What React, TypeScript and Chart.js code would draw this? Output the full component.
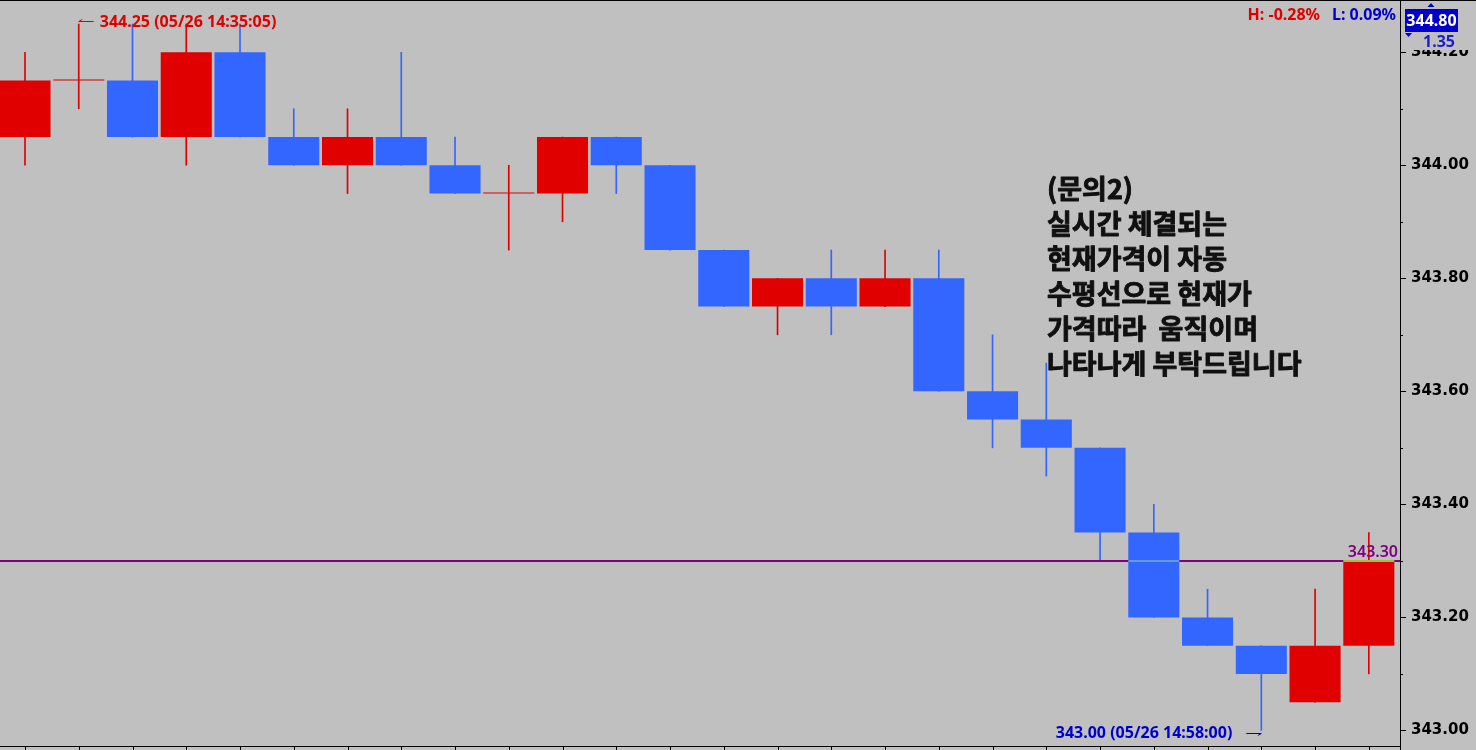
import React, { useEffect, useRef } from 'react';
import { Chart, registerables } from 'chart.js';

Chart.register(...registerables);

// ---- data ----
const barIndex = [0, 1, 2, 3, 4, 5, 6, 7, 8, 9, 10, 11, 12, 13, 14, 15, 16, 17, 18, 19, 20, 21, 22, 23, 24, 25];
const opens = [344.05, 344.15, 344.15, 344.05, 344.2, 344.05, 344.0, 344.05, 344.0, 343.95, 343.95, 344.05, 344.0, 343.85, 343.75, 343.8, 343.75, 343.8, 343.6, 343.55, 343.5, 343.35, 343.2, 343.15, 343.05, 343.15];
const highs = [344.2, 344.25, 344.25, 344.25, 344.25, 344.1, 344.1, 344.2, 344.05, 344.0, 344.05, 344.05, 344.0, 343.85, 343.8, 343.85, 343.85, 343.85, 343.7, 343.65, 343.5, 343.4, 343.25, 343.15, 343.25, 343.35];
const lows = [344.0, 344.1, 344.05, 344.0, 344.05, 344.0, 343.95, 344.0, 343.95, 343.85, 343.9, 343.95, 343.85, 343.75, 343.7, 343.7, 343.75, 343.6, 343.5, 343.45, 343.3, 343.2, 343.15, 343.0, 343.05, 343.1];
const closes = [344.15, 344.15, 344.05, 344.2, 344.05, 344.0, 344.05, 344.0, 343.95, 343.95, 344.05, 344.0, 343.85, 343.75, 343.8, 343.75, 343.8, 343.6, 343.55, 343.5, 343.35, 343.2, 343.15, 343.1, 343.15, 343.3];

const yTicks = [343.0, 343.1, 343.2, 343.3, 343.4, 343.5, 343.6, 343.7, 343.8, 343.9, 344.0, 344.1, 344.2];
const yTickLabels = ['343.00', '', '343.20', '', '343.40', '', '343.60', '', '343.80', '', '344.00', '', '344.20'];

const currentPrice = 343.3;
const currentPriceLabel = '343.30';
const highIndex = 1;
const highPrice = 344.25;
const highLabel = '344.25 (05/26 14:35:05)';
const lowIndex = 23;
const lowPrice = 343.0;
const lowLabel = '343.00 (05/26 14:58:00)';
const headerHigh = 'H: -0.28%';
const headerLow = 'L: 0.09%';
const lastBoxValue = '344.80';
const changeValue = '1.35';
const noteLines = ['(문의2)', '실시간 체결되는', '현재가격이 자동', '수평선으로 현재가', '가격따라  움직이며', '나타나게 부탁드립니다'];

// ---- styles ----
const BG = '#c0c0c0';
const RED = '#e00000';
const BLUE = '#3366ff';
const DARKBLUE = '#0000cc';
const PURPLE = '#800080';

const colors = opens.map((o, i) => (closes[i] >= o ? RED : BLUE));

const decorPlugin = {
  id: 'decor',
  beforeDraw(chart: any) {
    const { ctx, width, height } = chart;
    ctx.save();
    ctx.fillStyle = BG;
    ctx.fillRect(0, 0, width, height);
    ctx.restore();
  },
  afterDatasetsDraw(chart: any) {
    const { ctx, chartArea } = chart;
    const xs = chart.scales.x;
    const ys = chart.scales.y;
    ctx.save();
    // current price line
    const py = ys.getPixelForValue(currentPrice);
    ctx.fillStyle = PURPLE;
    ctx.fillRect(chartArea.left, Math.round(py) - 1, chartArea.right - chartArea.left, 2);
    const half = (xs.getPixelForValue(1) - xs.getPixelForValue(0)) * 0.95 / 2;
    barIndex.forEach((i) => {
      const lo = Math.min(opens[i], closes[i]);
      const hi = Math.max(opens[i], closes[i]);
      if (currentPrice >= lo && currentPrice <= hi && hi > lo) {
        const cx = xs.getPixelForValue(i);
        ctx.fillStyle = colors[i] === RED ? '#a0c040' : '#6699cc';
        ctx.fillRect(cx - half, Math.round(py) - 1, half * 2, 2);
      }
    });
    ctx.fillStyle = PURPLE;
    ctx.font = '600 16px "Noto Sans"';
    ctx.textAlign = 'right';
    ctx.textBaseline = 'alphabetic';
    ctx.fillText(currentPriceLabel, chartArea.right - 2, py - 4);

    // high annotation
    const hx = xs.getPixelForValue(highIndex);
    const hy = ys.getPixelForValue(highPrice) - 3;
    ctx.strokeStyle = RED;
    ctx.lineWidth = 1;
    ctx.beginPath();
    ctx.moveTo(hx, Math.round(hy) + 0.5);
    ctx.lineTo(hx + 15, Math.round(hy) + 0.5);
    ctx.moveTo(hx, Math.round(hy) + 0.5);
    ctx.lineTo(hx + 3.5, Math.round(hy) - 1.5);
    ctx.stroke();
    ctx.fillStyle = RED;
    ctx.font = 'bold 16px "Noto Sans"';
    ctx.textAlign = 'left';
    ctx.textBaseline = 'middle';
    ctx.fillText(highLabel, hx + 21, hy + 1);

    // low annotation
    const lx = xs.getPixelForValue(lowIndex);
    const ly = ys.getPixelForValue(lowPrice) + 3;
    ctx.strokeStyle = DARKBLUE;
    ctx.beginPath();
    ctx.moveTo(lx, Math.round(ly) + 0.5);
    ctx.lineTo(lx - 15, Math.round(ly) + 0.5);
    ctx.moveTo(lx, Math.round(ly) + 0.5);
    ctx.lineTo(lx - 3.5, Math.round(ly) + 2.5);
    ctx.stroke();
    ctx.fillStyle = DARKBLUE;
    ctx.textAlign = 'right';
    ctx.fillText(lowLabel, lx - 29, ly);

    // note text
    ctx.fillStyle = '#101010';
    ctx.strokeStyle = '#101010';
    ctx.lineWidth = 0.9;
    ctx.lineJoin = 'round';
    ctx.font = 'bold 27px "Noto Sans CJK KR"';
    ctx.textAlign = 'left';
    ctx.textBaseline = 'middle';
    noteLines.forEach((t, i) => {
      ctx.fillText(t, 1047, 189 + i * 35);
      ctx.strokeText(t, 1047, 189 + i * 35);
    });
    ctx.restore();
  },
  afterDraw(chart: any) {
    const { ctx, chartArea, width, height } = chart;
    const xs = chart.scales.x;
    const ys = chart.scales.y;
    ctx.save();
    // cover top of the axis area
    ctx.fillStyle = BG;
    ctx.fillRect(chartArea.right + 1, 0, width - chartArea.right, 50);
    // axes
    ctx.fillStyle = '#000';
    ctx.fillRect(0, 0, width, 1);
    ctx.fillRect(chartArea.right, 0, 1, height);
    ctx.fillRect(0, chartArea.bottom, chartArea.right, 1);
    barIndex.forEach((i) => {
      const px = Math.round(xs.getPixelForValue(i));
      ctx.fillRect(px, chartArea.bottom, 1, height - chartArea.bottom);
    });
    yTicks.forEach((v, i) => {
      const py = Math.round(ys.getPixelForValue(v));
      const len = yTickLabels[i] ? 6 : 3;
      ctx.fillRect(chartArea.right, py, len, 1);
    });
    // header texts
    ctx.font = 'bold 16px "Noto Sans"';
    ctx.textBaseline = 'middle';
    ctx.textAlign = 'right';
    ctx.fillStyle = DARKBLUE;
    ctx.fillText(headerLow, chartArea.right - 4, 15);
    const lw = ctx.measureText(headerLow).width;
    ctx.fillStyle = RED;
    ctx.fillText(headerHigh, chartArea.right - 4 - lw - 12, 15);
    // last value box
    ctx.fillStyle = DARKBLUE;
    ctx.fillRect(1405, 9, 53, 23);
    ctx.beginPath();
    ctx.moveTo(1427.5, 7);
    ctx.lineTo(1434.5, 7);
    ctx.lineTo(1431, 3);
    ctx.closePath();
    ctx.fill();
    ctx.beginPath();
    ctx.moveTo(1405, 33);
    ctx.lineTo(1412, 33);
    ctx.lineTo(1408.5, 37);
    ctx.closePath();
    ctx.fill();
    ctx.fillStyle = '#ffffff';
    ctx.textAlign = 'center';
    ctx.font = 'bold 16px "Noto Sans"';
    ctx.fillText(lastBoxValue, 1431.5, 21);
    ctx.fillStyle = '#1c1ccc';
    ctx.font = 'bold 16px "Noto Sans"';
    ctx.textAlign = 'right';
    ctx.fillText(changeValue, 1455, 42);
    ctx.restore();
  },
};

export default function App() {
  const ref = useRef<HTMLCanvasElement>(null);
  useEffect(() => {
    document.body.style.margin = '0';
    const canvas = ref.current;
    if (!canvas) return;
    const chart = new Chart(canvas, {
      type: 'bar',
      data: {
        datasets: [
          {
            label: 'body',
            data: barIndex.map((i) => ({ x: i, y: [opens[i], closes[i]] })) as any,
            backgroundColor: colors,
            borderWidth: 0,
            barPercentage: 0.95,
            categoryPercentage: 1,
            grouped: false,
            minBarLength: 1,
          } as any,
          {
            label: 'wick',
            data: barIndex.map((i) => ({ x: i, y: [lows[i], highs[i]] })) as any,
            backgroundColor: colors,
            borderWidth: 0,
            barThickness: 1,
            grouped: false,
          } as any,
        ],
      },
      options: {
        animation: false,
        responsive: false,
        maintainAspectRatio: false,
        layout: { padding: { left: 0, right: 0, top: 0, bottom: 4 } },
        plugins: { legend: { display: false }, tooltip: { enabled: false } },
        scales: {
          x: { type: 'linear', display: false, min: -0.465, max: 25.58, offset: false },
          y: {
            position: 'right',
            min: 342.9724,
            max: 344.2925,
            grid: { display: false, drawTicks: false },
            border: { display: false },
            afterBuildTicks: (s: any) => {
              s.ticks = yTicks.map((v) => ({ value: v }));
            },
            afterFit: (s: any) => {
              s.width = 76;
              s.paddingTop = 0;
              s.paddingBottom = 0;
            },
            ticks: {
              autoSkip: false,
              padding: 11,
              color: '#000',
              font: { family: 'DejaVu Sans', weight: 'bold', size: 15 },
              callback: (_v: any, i: number) => yTickLabels[i],
            },
          } as any,
        },
      },
      plugins: [decorPlugin],
    });
    return () => chart.destroy();
  }, []);
  return (
    <div style={{ width: 1476, height: 750 }}>
      <canvas ref={ref} width={1476} height={750} style={{ display: 'block' }} />
    </div>
  );
}
